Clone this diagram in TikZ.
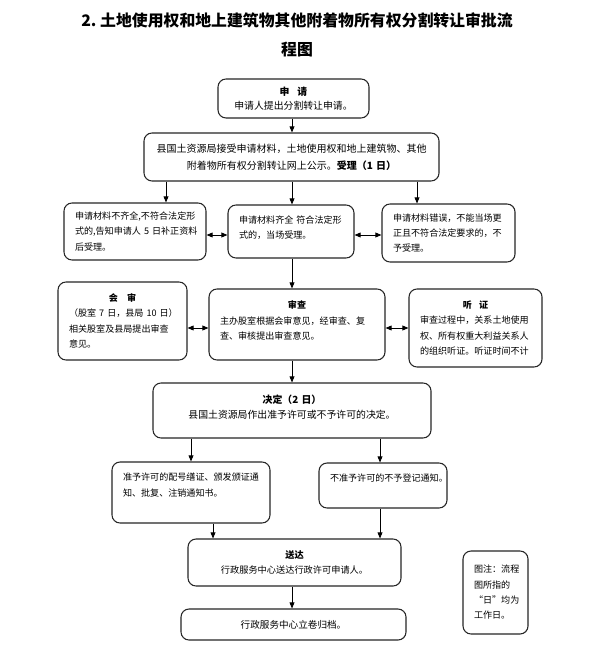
\documentclass[tikz,border=0pt]{standalone}
\usepackage{fontspec}
\setmainfont{Noto Sans CJK SC}
\usepackage{tikz}
\usetikzlibrary{arrows.meta, positioning, calc}

\begin{document}
\begin{tikzpicture}[
    x=0.75pt, y=-0.75pt,
    box/.style={draw=black!85, line width=0.8pt, rounded corners=6pt, inner xsep=8.25pt, inner ysep=0pt,
        align=left, font=\fontsize{6.8}{11.5}\selectfont},
    cbox/.style={box, align=center},
    title/.style={align=center, font=\fontsize{11.9}{21.75}\selectfont\bfseries},
    arrow/.style={-{Triangle[length=4.5pt, width=3.6pt]}, line width=0.6pt},
    darrow/.style={{Triangle[length=4.5pt, width=3.6pt]}-{Triangle[length=4.5pt, width=3.6pt]}, line width=0.6pt}
]
\fill[white] (0,0) rectangle (596,655);
\useasboundingbox (0,0) rectangle (596,655);

% Title
\node[title] (ttl) at (297,34.5) {2.~土地使用权和地上建筑物其他附着物所有权分割转让审批流\\程图};

% Application and acceptance
\node[cbox, minimum width=113.25pt, minimum height=29.25pt, text width=96.75pt,
    font=\fontsize{7.4}{10.5}\selectfont] (shenqing) at (293.5,98.5)
    {{\bfseries 申\hspace{0.8em}请}\\申请人提出分割转让申请。};
\node[cbox, minimum width=221.25pt, minimum height=36pt, text width=204.75pt,
    font=\fontsize{7.5}{12.75}\selectfont] (shouli) at (291.5,157)
    {县国土资源局接受申请材料，土地使用权和地上建筑物、其他\\附着物所有权分割转让网上公示。{\bfseries 受理（1~日）}};

% Three outcomes of the check
\node[box, minimum width=106.5pt, minimum height=42.75pt, text width=90pt] (buqi) at (135,231.5)
    {申请材料不齐全,不符合法定形\\式的,告知申请人~5~日补正资料\\后受理。};
\node[box, minimum width=94.5pt, minimum height=39.75pt, text width=78pt] (qiquan) at (291,231.5)
    {申请材料齐全~符合法定形\\式的，当场受理。\\[-5pt]\mbox{}};
\node[box, minimum width=99.75pt, minimum height=43.5pt, text width=83.25pt] (cuowu) at (448.5,233)
    {申请材料错误，不能当场更\\正且不符合法定要求的，不\\予受理。};

% Review row
\node[box, minimum width=96.75pt, minimum height=58.5pt, text width=80.25pt] (huishen) at (122.5,321)
    {\makebox[\linewidth]{\bfseries 会\quad 审}\\（股室~7~日，县局~10~日）\\相关股室及县局提出审查\\意见。};
\node[box, minimum width=132pt, minimum height=53.25pt, text width=115.5pt] (shencha) at (297,324.5)
    {\makebox[\linewidth]{\bfseries 审查}\\主办股室根据会审意见，经审查、复\\查、审核提出审查意见。\\[-5pt]\mbox{}};
\node[box, minimum width=99.75pt, minimum height=58.5pt, text width=83.25pt] (tingzheng) at (475.5,328)
    {\makebox[\linewidth]{\bfseries 听\hspace{0.8em}证}\\审查过程中，关系土地使用\\权、所有权重大利益关系人\\的组织听证。听证时间不计};

% Decision
\node[cbox, minimum width=208.5pt, minimum height=41.25pt, text width=192pt,
    font=\fontsize{7.4}{11.25}\selectfont] (jueding) at (292,410.5)
    {{\bfseries 决定（2~日）}\\县国土资源局作出准予许可或不予许可的决定。\\[-5pt]\mbox{}};
\node[box, minimum width=118.5pt, minimum height=45.75pt, text width=102pt] (zhunyu) at (191,492.5)
    {准予许可的配号缮证、颁发颁证通\\知、批复、注销通知书。\\\mbox{}};
\node[box, minimum width=96pt, minimum height=33.75pt, text width=79.5pt] (buzhun) at (383,485.5)
    {不准予许可的不予登记通知。\\\mbox{}};

% Delivery and filing
\node[cbox, minimum width=159.75pt, minimum height=35.25pt, text width=143.25pt,
    font=\fontsize{6.9}{11.25}\selectfont] (songda) at (294.5,562.5)
    {{\bfseries 送达}\\行政服务中心送达行政许可申请人。};
\node[cbox, minimum width=168.75pt, minimum height=23.25pt, text width=152.25pt,
    font=\fontsize{7.2}{11.5}\selectfont] (guidang) at (293.5,624.5)
    {行政服务中心立卷归档。};
\node[box, minimum width=48.75pt, minimum height=62.25pt, text width=32.25pt] (tuzhu) at (495.5,592.5)
    {图注：流程\\图所指的\\“日”均为\\工作日。};

% Connector positions
\coordinate (xa) at (166,0);
\coordinate (xb) at (292,0);
\coordinate (xc) at (417,0);
\coordinate (xd) at (191,0);
\coordinate (xe) at (380,0);
\coordinate (xf) at (213,0);
\coordinate (ya) at (0,235);
\coordinate (yb) at (0,328);

% Connectors
\draw[arrow] (shenqing.south -| xb) -- (shouli.north -| xb);
\draw[arrow] (shouli.south -| xa) -- (buqi.north -| xa);
\draw[arrow] (shouli.south -| xb) -- (qiquan.north -| xb);
\draw[arrow] (shouli.south -| xc) -- (cuowu.north -| xc);
\draw[darrow] (buqi.east |- ya) -- (qiquan.west |- ya);
\draw[darrow] (qiquan.east |- ya) -- (cuowu.west |- ya);
\draw[arrow] (qiquan.south -| xb) -- (shencha.north -| xb);
\draw[darrow] (huishen.east |- yb) -- (shencha.west |- yb);
\draw[darrow] (shencha.east |- yb) -- (tingzheng.west |- yb);
\draw[arrow] (shencha.south -| xb) -- (jueding.north -| xb);
\draw[arrow] (jueding.south -| xd) -- (zhunyu.north -| xd);
\draw[arrow] (jueding.south -| xe) -- (buzhun.north -| xe);
\draw[arrow] (zhunyu.south -| xf) -- (songda.north -| xf);
\draw[arrow] (buzhun.south -| xe) -- (songda.north -| xe);
\draw[arrow] (songda.south -| xb) -- (guidang.north -| xb);

\end{tikzpicture}
\end{document}
